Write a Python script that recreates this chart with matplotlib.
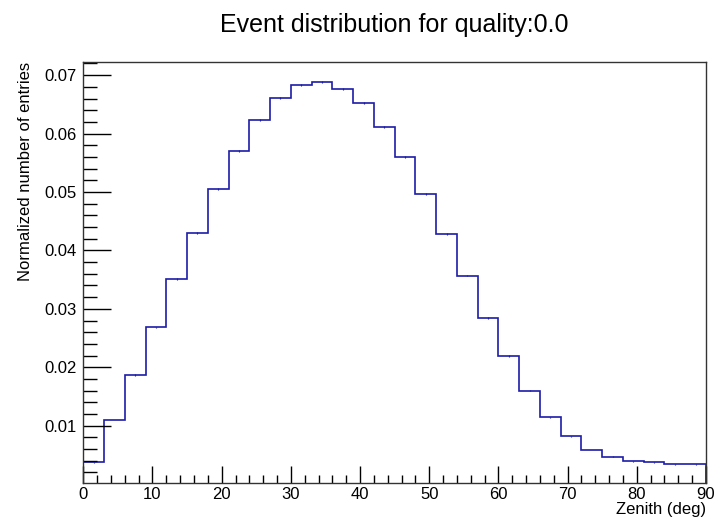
import numpy as np
import matplotlib
matplotlib.use("Agg")
import matplotlib.pyplot as plt
from matplotlib.ticker import MultipleLocator

plt.rcParams['font.family'] = ['Liberation Sans', 'DejaVu Sans']

title = "Event distribution for quality:0.0"
xlabel = "Zenith (deg)"
ylabel = "Normalized number of entries"

bin_edges = np.arange(0, 93, 3)
values = [0.00373, 0.01098, 0.01868, 0.02685, 0.03512, 0.04300, 0.05048, 0.05704,
          0.06235, 0.06616, 0.06834, 0.06885, 0.06770, 0.06526, 0.06120, 0.05601,
          0.04967, 0.04282, 0.03568, 0.02844, 0.02193, 0.01600, 0.01144, 0.00818,
          0.00584, 0.00469, 0.00390, 0.00373, 0.00339, 0.00339]
errors = [0.00004, 0.00007, 0.00009, 0.00011, 0.00012, 0.00014, 0.00015, 0.00016,
          0.00016, 0.00017, 0.00017, 0.00017, 0.00017, 0.00017, 0.00016, 0.00016,
          0.00015, 0.00014, 0.00012, 0.00011, 0.00010, 0.00008, 0.00007, 0.00006,
          0.00005, 0.00004, 0.00004, 0.00004, 0.00004, 0.00004]

color = '#1c1ca8'

fig = plt.figure(figsize=(7.16, 5.22), dpi=100)
ax = fig.add_axes([83.3/716, 1-483.3/522, (706-83.3)/716, (483.3-62.3)/522])

ax.stairs(values, bin_edges, color=color, linewidth=1.2)
centers = 0.5*(bin_edges[:-1] + bin_edges[1:])
ax.errorbar(centers, values, yerr=errors, fmt='none', ecolor=color, elinewidth=0.8)

ax.set_xlim(0, 90)
ax.set_ylim(0.00014, 0.0722)

ax.xaxis.set_major_locator(MultipleLocator(10))
ax.xaxis.set_minor_locator(MultipleLocator(2))
ax.yaxis.set_minor_locator(MultipleLocator(0.002))
yt = np.arange(0.01, 0.071, 0.01)
ax.set_yticks(yt)
ax.set_yticklabels([f"{v:.2f}" for v in yt])

ax.tick_params(axis='both', which='both', direction='in', top=False, right=False,
               labelsize=12, colors='black', width=1.0)
ax.tick_params(axis='y', which='major', length=20, pad=5)
ax.tick_params(axis='y', which='minor', length=10)
ax.tick_params(axis='x', which='major', length=12, pad=3)
ax.tick_params(axis='x', which='minor', length=6)

for s in ax.spines.values():
    s.set_linewidth(1.0)
    s.set_color('#333333')

ax.set_xlabel(xlabel, fontsize=12, loc='right', labelpad=0)
ax.set_ylabel(ylabel, fontsize=12, loc='top', labelpad=8)

fig.text(394/716, 1-25/522, title, ha='center', va='center', fontsize=18)

fig.savefig("out.png", dpi=100)
